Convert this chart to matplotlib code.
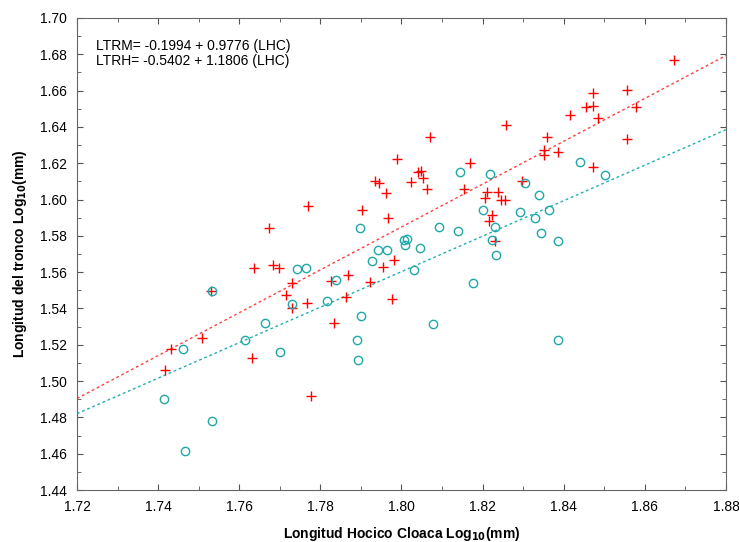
import numpy as np
import matplotlib.pyplot as plt
from matplotlib.ticker import MultipleLocator

plt.rcParams['font.family'] = ['Liberation Sans', 'DejaVu Sans']

# cruces rojas
rojo_x = [1.7418, 1.7431, 1.7508, 1.7530, 1.7631, 1.7636, 1.7674, 1.7682, 1.7699,
          1.7715, 1.7729, 1.7731, 1.7767, 1.7770, 1.7777, 1.7825, 1.7834, 1.7862,
          1.7869, 1.7902, 1.7922, 1.7935, 1.7945, 1.7955, 1.7962, 1.7967, 1.7977,
          1.7982, 1.7988, 1.8024, 1.8041, 1.8047, 1.8053, 1.8063, 1.8070, 1.8154,
          1.8169, 1.8206, 1.8212, 1.8215, 1.8222, 1.8230, 1.8238, 1.8245, 1.8254,
          1.8258, 1.8296, 1.8352, 1.8352, 1.8358, 1.8387, 1.8416, 1.8454, 1.8471,
          1.8471, 1.8473, 1.8485, 1.8555, 1.8555, 1.8578, 1.8673]
rojo_y = [1.5061, 1.5176, 1.5235, 1.5498, 1.5127, 1.5621, 1.5845, 1.5637, 1.5621,
          1.5474, 1.5540, 1.5402, 1.5428, 1.5964, 1.4917, 1.5553, 1.5321, 1.5465,
          1.5584, 1.5941, 1.5545, 1.6100, 1.6089, 1.5627, 1.6038, 1.5896, 1.5450,
          1.5665, 1.6225, 1.6095, 1.6153, 1.6157, 1.6117, 1.6058, 1.6343, 1.6056,
          1.6199, 1.6007, 1.6040, 1.5880, 1.5913, 1.5771, 1.6040, 1.5997, 1.5997,
          1.6410, 1.6100, 1.6273, 1.6245, 1.6343, 1.6264, 1.6466, 1.6511, 1.6517,
          1.6585, 1.6177, 1.6447, 1.6603, 1.6332, 1.6511, 1.6769]

# circulos cian
cian_x = [1.7414, 1.7461, 1.7466, 1.7532, 1.7534, 1.7614, 1.7663, 1.7700, 1.7731,
          1.7742, 1.7764, 1.7816, 1.7838, 1.7890, 1.7892, 1.7898, 1.7900, 1.7928,
          1.7942, 1.7964, 1.8006, 1.8009, 1.8013, 1.8031, 1.8046, 1.8077, 1.8092,
          1.8140, 1.8143, 1.8176, 1.8200, 1.8218, 1.8222, 1.8231, 1.8233, 1.8291,
          1.8305, 1.8328, 1.8339, 1.8344, 1.8363, 1.8385, 1.8387, 1.8440, 1.8502]
cian_y = [1.4899, 1.5176, 1.4616, 1.4781, 1.5498, 1.5226, 1.5321, 1.5160, 1.5426,
          1.5617, 1.5623, 1.5442, 1.5555, 1.5226, 1.5114, 1.5841, 1.5360, 1.5663,
          1.5724, 1.5724, 1.5777, 1.5749, 1.5781, 1.5612, 1.5734, 1.5312, 1.5847,
          1.5825, 1.6153, 1.5538, 1.5944, 1.6139, 1.5777, 1.5847, 1.5696, 1.5929,
          1.6089, 1.5898, 1.6023, 1.5814, 1.5942, 1.5770, 1.5226, 1.6208, 1.6135]

# rectas
rojo_a, rojo_b = -0.5402, 1.1806
cian_a, cian_b = -0.1994, 0.9776

fig = plt.figure(figsize=(7.39, 5.42), dpi=100)
ax = fig.add_axes([0.1042, 0.0959, 0.8782, 0.8709])

xl = np.array([1.72, 1.88])
ax.plot(xl, rojo_a + rojo_b * xl, color='#ff4040', lw=1, ls=(0, (2, 2)))
ax.plot(xl, cian_a + cian_b * xl, color='#20b0b0', lw=1, ls=(0, (2, 2)))

ax.plot(rojo_x, rojo_y, '+', color='#ff0000', ms=7, mew=1)
ax.plot(cian_x, cian_y, 'o', mfc='none', mec='#20a8a8', ms=6, mew=1)

ax.set_xlim(1.72, 1.88)
ax.set_ylim(1.44, 1.70)
ax.xaxis.set_major_locator(MultipleLocator(0.02))
ax.xaxis.set_minor_locator(MultipleLocator(0.01))
ax.yaxis.set_major_locator(MultipleLocator(0.02))
ax.yaxis.set_minor_locator(MultipleLocator(0.01))
ax.xaxis.set_major_formatter(plt.FormatStrFormatter('%.2f'))
ax.yaxis.set_major_formatter(plt.FormatStrFormatter('%.2f'))
ax.tick_params(which='both', direction='in', top=True, right=True, labelsize=10, color='#555555')
ax.tick_params(which='major', length=4, pad=7)
ax.tick_params(which='minor', length=3)
for s in ax.spines.values():
    s.set_color('#666666')

ax.set_xlabel('Longitud Hocico Cloaca Log$_\\mathbf{10}$(mm)', fontsize=10, fontweight='bold', labelpad=8)
ax.set_ylabel('Longitud del tronco Log$_\\mathbf{10}$(mm)', fontsize=10, fontweight='bold', labelpad=8)

ax.text(0.03, 0.955, 'LTRM= -0.1994 + 0.9776 (LHC)\nLTRH= -0.5402 + 1.1806 (LHC)',
        transform=ax.transAxes, va='top', ha='left', fontsize=10, linespacing=1.1)

fig.savefig('out.png', dpi=100)
